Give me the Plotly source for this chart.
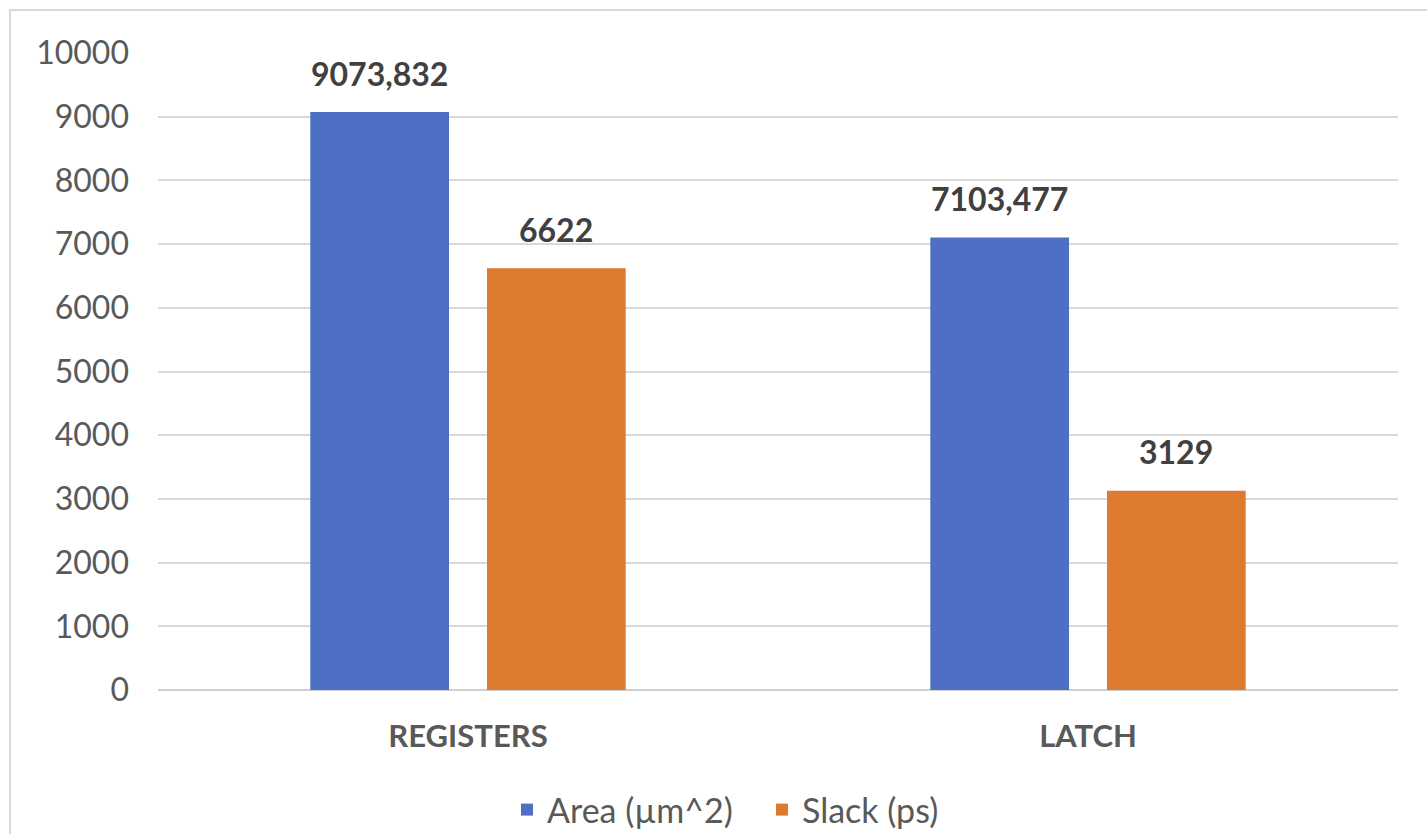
import plotly.graph_objects as go

# Chart data
categories = ["REGISTERS", "LATCH"]
area_um2 = [9073.832, 7103.477]
slack_ps = [6622, 3129]
series_names = ["Area (µm^2)", "Slack (ps)"]
y_ticks = [0, 1000, 2000, 3000, 4000, 5000, 6000, 7000, 8000, 9000, 10000]

W, H = 1427, 834
ML, MR, MT, MB = 158, 29, 53, 144
PW, PH = W - ML - MR, H - MT - MB

BLUE = "#4E70C4"
ORANGE = "#DD7A2E"
FONT = "Lato"

BARGAP = 0.43
BARGROUPGAP = 0.215


def fmt(v):
    s = ("%.3f" % v).rstrip("0").rstrip(".")
    return s.replace(".", ",")


fig = go.Figure()
fig.add_trace(go.Bar(x=categories, y=area_um2, name=series_names[0],
                     marker=dict(color=BLUE, line=dict(width=0))))
fig.add_trace(go.Bar(x=categories, y=slack_ps, name=series_names[1],
                     marker=dict(color=ORANGE, line=dict(width=0))))

# value labels above each bar
cat_w = PW / len(categories)
slot = cat_w * (1 - BARGAP) / 2
annotations = []
for vals, sign in ((area_um2, -1), (slack_ps, 1)):
    for c, v in zip(categories, vals):
        annotations.append(dict(
            x=c, y=v, xref="x", yref="y", text="<b>%s</b>" % fmt(v),
            showarrow=False, xanchor="center", yanchor="middle",
            xshift=sign * slot / 2, yshift=39,
            font=dict(family=FONT, size=32, color="#404040")))

# outer chart border (top and left edges visible)
px = lambda x: (x - ML) / PW
py = lambda y: (H - MB - y) / PH
shapes = [dict(type="rect", xref="paper", yref="paper",
               x0=px(10), x1=px(W + 40), y0=py(H + 40), y1=py(10),
               line=dict(color="#d9d9d9", width=2), layer="below")]

fig.update_layout(
    width=W, height=H,
    margin=dict(l=ML, r=MR, t=MT, b=MB, autoexpand=False),
    paper_bgcolor="white", plot_bgcolor="white",
    barmode="group", bargap=BARGAP, bargroupgap=BARGROUPGAP,
    font=dict(family=FONT, color="#595959"),
    annotations=annotations, shapes=shapes,
    showlegend=True,
    legend=dict(orientation="h", x=px(762), xanchor="center",
                y=py(810), yanchor="middle",
                font=dict(family=FONT, size=34, color="#595959"),
                itemwidth=30, entrywidth=210, traceorder="normal",
                bgcolor="rgba(0,0,0,0)"),
)
fig.update_xaxes(
    showgrid=False, showline=False, ticks="",
    tickfont=dict(family=FONT, size=31, color="#595959", weight="bold"),
    ticklabelstandoff=25,
)
fig.update_yaxes(
    range=[0, 10000], tickvals=y_ticks,
    ticktext=[str(t) for t in y_ticks],
    showgrid=True, gridcolor="#d9d9d9", gridwidth=2,
    zeroline=True, zerolinecolor="#cfcfcf", zerolinewidth=2,
    showline=False, ticks="",
    tickfont=dict(family=FONT, size=32, color="#595959"),
    ticklabelstandoff=28,
)

fig.write_html("out.html")
